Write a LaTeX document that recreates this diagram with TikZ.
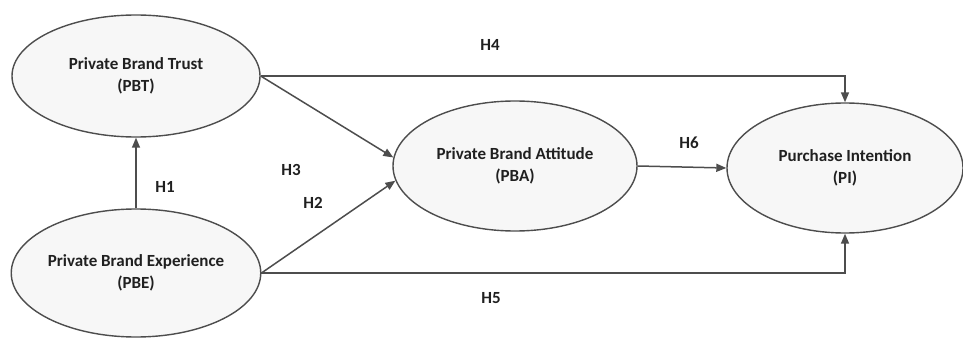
\documentclass[tikz,border=0pt]{standalone}
\usepackage{fontspec}
\setmainfont{Carlito}
\usetikzlibrary{shapes.geometric,arrows.meta}
\definecolor{edge}{HTML}{4D4D4D}
\definecolor{fillc}{HTML}{F7F7F7}
\definecolor{txt}{HTML}{202020}
\tikzset{
  construct/.style={ellipse, draw=edge, fill=fillc, line width=1.4pt, inner sep=0pt,
    text=txt, font=\bfseries\fontsize{17}{22}\selectfont, align=center},
  conn/.style={draw=edge, line width=1.5pt, -{Triangle[length=10pt,width=8pt]}},
  hyp/.style={text=txt, font=\bfseries\fontsize{17}{20}\selectfont, inner sep=0pt}
}
\begin{document}
\begin{tikzpicture}[x=1pt,y=-1pt]
\useasboundingbox (0,0) rectangle (963,342);
\node[construct, minimum width=248pt, minimum height=122pt] (pbt) at (136,76) {Private Brand Trust\\(PBT)};
\node[construct, minimum width=248pt, minimum height=128pt] (pbe) at (136,273) {Private Brand Experience\\(PBE)};
\node[construct, minimum width=244pt, minimum height=130pt] (pba) at (515,166) {Private Brand Attitude\\(PBA)};
\node[construct, minimum width=236pt, minimum height=130pt] (pi) at (845,168) {Purchase Intention\\(PI)};
\draw[conn] (pbe.north) -- (pbt.south);
\draw[conn] (pbt.east) -| (pi.north);
\draw[conn] (pbe.east) -| (pi.south);
\draw[conn] (pbt.east) -- (pba.176);
\draw[conn] (pbe.east) -- (pba.187);
\draw[conn] (pba.east) -- (pi.west);
\node[hyp] (h1) at (165,187) {H1};
\node[hyp] (h2) at (313,203) {H2};
\node[hyp] (h3) at (291,170) {H3};
\node[hyp] (h4) at (490,45) {H4};
\node[hyp] (h5) at (491,298) {H5};
\node[hyp] (h6) at (689,143) {H6};
\end{tikzpicture}
\end{document}
